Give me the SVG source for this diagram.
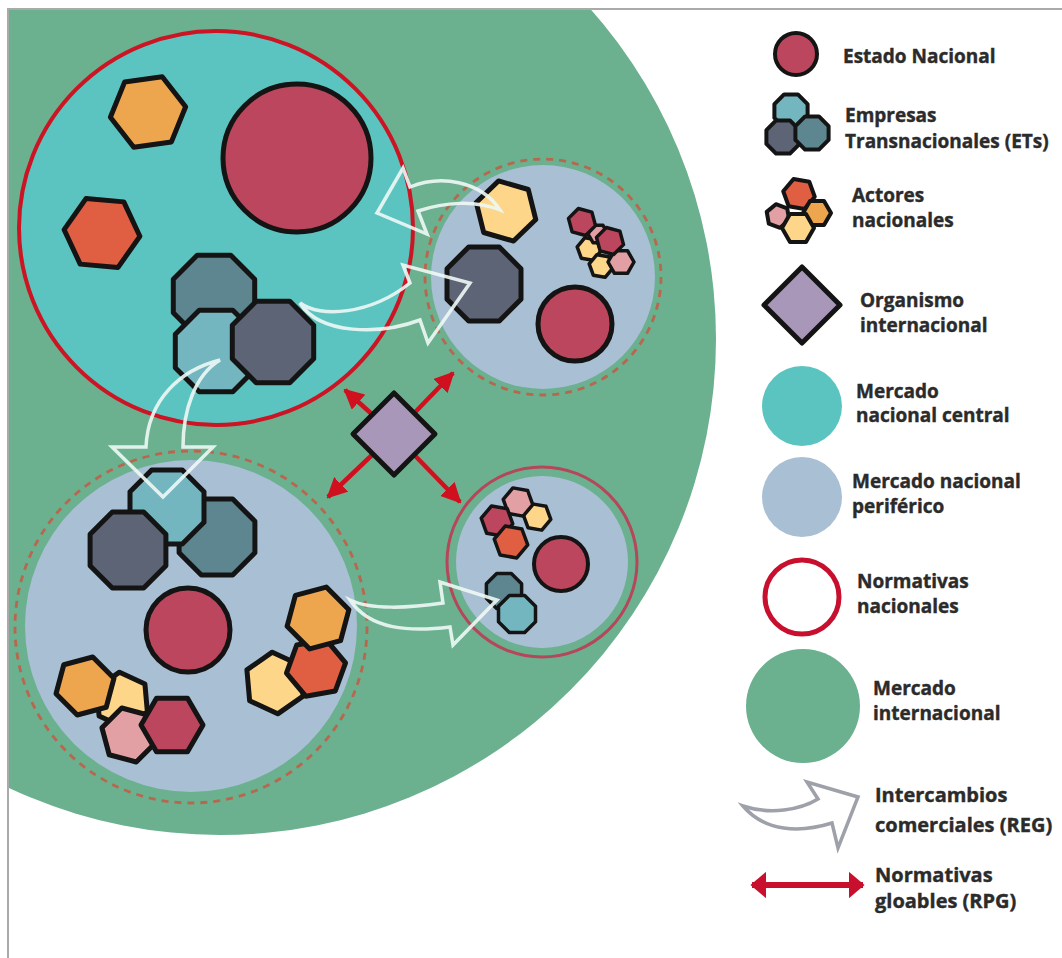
<svg xmlns="http://www.w3.org/2000/svg" width="1062" height="958" viewBox="0 0 1062 958">
<style>
.s{stroke:#141414;stroke-width:5;stroke-linejoin:round}
.m{stroke:#141414;stroke-width:4;stroke-linejoin:round}
.t{stroke:#141414;stroke-width:3.5;stroke-linejoin:round}
.est{fill:#bb465d}.org{fill:#eea64e}.ror{fill:#e05f43}.yel{fill:#fdd68a}.pnk{fill:#e2a0a4}
.sla{fill:#5c6475}.dte{fill:#5e8690}.lte{fill:#73b6c0}.lav{fill:#a897b8}
.wa{fill:none;stroke:#eef8f5;stroke-opacity:0.9;stroke-width:3.5;stroke-linejoin:miter}
.ra{stroke:#d0101e;stroke-width:4.5;fill:none}
.dash{fill:none;stroke:#b8674f;stroke-width:2.8;stroke-dasharray:7 6}
text{font-family:"Open Sans","Liberation Sans",sans-serif;font-weight:700;font-size:19px;fill:#2b2b2b;stroke:#2b2b2b;stroke-width:0.4}
</style>
<defs>
<clipPath id="frame"><rect x="9" y="10" width="1053" height="948"/></clipPath>
<marker id="rh" viewBox="0 0 10 10" refX="9" refY="5" markerWidth="4.5" markerHeight="4.5" orient="auto-start-reverse" markerUnits="strokeWidth"><path d="M0,0 L10,5 L0,10 Z" fill="#d0101e"/></marker>
<marker id="rh2" viewBox="0 0 10 10" refX="9" refY="5" markerWidth="2.6" markerHeight="4.4" orient="auto-start-reverse" markerUnits="strokeWidth" preserveAspectRatio="none"><path d="M0,0 L10,5 L0,10 Z" fill="#c8102e"/></marker>
</defs>
<rect width="1062" height="958" fill="#ffffff"/>
<line x1="7" y1="9" x2="1062" y2="9" stroke="#aaaaaa" stroke-width="2"/>
<line x1="8" y1="9" x2="8" y2="958" stroke="#aaaaaa" stroke-width="2"/>

<g id="mercado-internacional" clip-path="url(#frame)">
<circle cx="220" cy="339" r="496" fill="#6bb08f"/>
</g>

<g id="mercado-central">
<circle cx="216" cy="228" r="195" fill="#5cc4c0"/>
<circle cx="216" cy="228" r="197" fill="none" stroke="#cc1424" stroke-width="4"/>
<circle class="s est" cx="297" cy="158" r="74"/>
<polygon class="s org" transform="rotate(-8 148 112)" points="186,112 167,144.9 129,144.9 110,112 129,79.1 167,79.1"/>
<polygon class="s ror" transform="rotate(5 102 233)" points="140,233 121,265.9 83,265.9 64,233 83,200.1 121,200.1"/>
<polygon class="s dte" points="254.7,279.2 230.8,255.3 197.2,255.3 173.3,279.2 173.3,312.8 197.2,336.7 230.8,336.7 254.7,312.8"/>
<polygon class="s lte" points="256.7,334.2 232.8,310.3 199.2,310.3 175.3,334.2 175.3,367.8 199.2,391.7 232.8,391.7 256.7,367.8"/>
<polygon class="s sla" points="313.7,325.2 289.8,301.3 256.2,301.3 232.3,325.2 232.3,358.8 256.2,382.7 289.8,382.7 313.7,358.8"/>
</g>

<g id="mercado-periferico-1">
<circle cx="543" cy="277" r="112" fill="#a8bfd4"/>
<circle class="dash" cx="543" cy="277" r="118"/>
<polygon class="s yel" transform="rotate(16 506 211)" points="537,211 521.5,237.8 490.5,237.8 475,211 490.5,184.2 521.5,184.2"/>
<polygon class="s sla" points="521,268.7 499.3,247 468.7,247 447,268.7 447,299.3 468.7,321 499.3,321 521,299.3"/>
<circle class="s est" cx="575" cy="324" r="37"/>
<polygon class="t yel" transform="rotate(10 589 249)" points="601,249 595,259.4 583,259.4 577,249 583,238.6 595,238.6"/>
<polygon class="t yel" transform="rotate(10 601 266)" points="613,266 607,276.4 595,276.4 589,266 595,255.6 607,255.6"/>
<polygon class="t pnk" points="608,234 603,242.7 593,242.7 588,234 593,225.3 603,225.3"/>
<polygon class="t pnk" points="634,262 627.5,273.3 614.5,273.3 608,262 614.5,250.7 627.5,250.7"/>
<polygon class="t est" transform="rotate(15 582 222)" points="596,222 589,234.1 575,234.1 568,222 575,209.9 589,209.9"/>
<polygon class="t est" transform="rotate(15 610 241)" points="624,241 617,253.1 603,253.1 596,241 603,228.9 617,228.9"/>
</g>

<g id="mercado-periferico-2">
<circle cx="191" cy="626" r="166" fill="#a8bfd4"/>
<circle class="dash" cx="191" cy="627" r="176"/>
<polygon class="s dte" points="254.9,521.3 232.7,499.1 201.3,499.1 179.1,521.3 179.1,552.7 201.3,574.9 232.7,574.9 254.9,552.7"/>
<polygon class="s lte" points="204,491.7 182.3,470 151.7,470 130,491.7 130,522.3 151.7,544 182.3,544 204,522.3"/>
<polygon class="s sla" points="165.9,534.3 143.7,512.1 112.3,512.1 90.1,534.3 90.1,565.7 112.3,587.9 143.7,587.9 165.9,565.7"/>
<circle class="s est" cx="188" cy="630" r="42"/>
<polygon class="s yel" transform="rotate(25 275 683)" points="306,683 290.5,709.8 259.5,709.8 244,683 259.5,656.2 290.5,656.2"/>
<polygon class="s ror" transform="rotate(-10 316 668)" points="346,668 331,694 301,694 286,668 301,642 331,642"/>
<polygon class="s org" transform="rotate(-15 318 618)" points="350,618 334,645.7 302,645.7 286,618 302,590.3 334,590.3"/>
<polygon class="s yel" transform="rotate(25 122 700)" points="150,700 136,724.2 108,724.2 94,700 108,675.8 136,675.8"/>
<polygon class="s org" transform="rotate(-15 85 686)" points="115,686 100,712 70,712 55,686 70,660 100,660"/>
<polygon class="s pnk" transform="rotate(15 129 735)" points="157,735 143,759.2 115,759.2 101,735 115,710.8 143,710.8"/>
<polygon class="s est" points="203,725 187.5,751.8 156.5,751.8 141,725 156.5,698.2 187.5,698.2"/>
</g>

<g id="mercado-periferico-3">
<circle cx="542" cy="562" r="86" fill="#a8bfd4"/>
<circle cx="542" cy="562" r="95" fill="none" stroke="#b5475a" stroke-width="3"/>
<circle class="m est" cx="561" cy="564" r="27"/>
<polygon class="t yel" transform="rotate(10 537 517)" points="551,517 544,529.1 530,529.1 523,517 530,504.9 544,504.9"/>
<polygon class="t pnk" transform="rotate(10 518 502)" points="533,502 525.5,515 510.5,515 503,502 510.5,489 525.5,489"/>
<polygon class="t est" transform="rotate(10 497 521)" points="513,521 505,534.9 489,534.9 481,521 489,507.1 505,507.1"/>
<polygon class="t ror" transform="rotate(10 511 542)" points="528,542 519.5,556.7 502.5,556.7 494,542 502.5,527.3 519.5,527.3"/>
<polygon class="t dte" points="521.6,583.7 511.3,573.4 496.7,573.4 486.4,583.7 486.4,598.3 496.7,608.6 511.3,608.6 521.6,598.3"/>
<polygon class="t lte" points="535.5,606.3 524.7,595.5 509.3,595.5 498.5,606.3 498.5,621.7 509.3,632.5 524.7,632.5 535.5,621.7"/>
</g>

<g id="connectors">
<path class="wa" d="M 500,210 C 480,180 440,175 410,187 L 403,168 L 377,213 L 427,234 L 418,211 C 445,202 475,200 500,210 Z"/>
<path class="wa" d="M 300,303 C 320,318 370,315 410,283 L 403,265 L 470,283 L 428,343 L 420,320 C 380,335 320,335 300,303 Z"/>
<path class="wa" d="M 220,360 C 180,370 148,400 146,447 L 112,447 L 163,497 L 213,447 L 183,447 C 183,410 195,375 220,360 Z"/>
<path class="wa" d="M 350,600 C 370,610 410,608 443,603 L 440,582 L 497,600 L 453,645 L 450,627 C 410,632 370,630 350,600 Z"/>
<line class="ra" x1="394" y1="434" x2="345" y2="390" marker-end="url(#rh)"/>
<line class="ra" x1="394" y1="434" x2="453" y2="373" marker-end="url(#rh)"/>
<line class="ra" x1="394" y1="434" x2="328" y2="497" marker-end="url(#rh)"/>
<line class="ra" x1="394" y1="434" x2="460" y2="502" marker-end="url(#rh)"/>
</g>

<g id="organismo-internacional">
<polygon class="s lav" points="394,393 435,434 394,475 353,434" stroke-linejoin="miter"/>
</g>

<g id="legend-estado">
<circle class="m est" cx="796" cy="54" r="21"/>
<text x="843" y="63">Estado Nacional</text>
</g>
<g id="legend-ets">
<polygon class="m lte" points="807.6,104.1 797.9,94.4 784.1,94.4 774.4,104.1 774.4,117.9 784.1,127.6 797.9,127.6 807.6,117.9"/>
<polygon class="m sla" points="799.6,130.1 789.9,120.4 776.1,120.4 766.4,130.1 766.4,143.9 776.1,153.6 789.9,153.6 799.6,143.9"/>
<polygon class="m dte" points="828.6,126.1 818.9,116.4 805.1,116.4 795.4,126.1 795.4,139.9 805.1,149.6 818.9,149.6 828.6,139.9"/>
<text x="845" y="122">Empresas</text>
<text x="845" y="148">Transnacionales (ETs)</text>
</g>
<g id="legend-actores">
<polygon class="m ror" transform="rotate(10 799 194)" points="815,194 807,207.9 791,207.9 783,194 791,180.1 807,180.1"/>
<polygon class="m pnk" transform="rotate(20 778 216)" points="790,216 784,226.4 772,226.4 766,216 772,205.6 784,205.6"/>
<polygon class="m org" points="831,213 824,225.1 810,225.1 803,213 810,200.9 824,200.9"/>
<polygon class="m yel" points="814,228 806,241.9 790,241.9 782,228 790,214.1 806,214.1"/>
<text x="852" y="202">Actores</text>
<text x="852" y="227">nacionales</text>
</g>
<g id="legend-organismo">
<polygon class="s lav" points="802,267 840,305 802,343 764,305" stroke-linejoin="miter"/>
<text x="860" y="307">Organismo</text>
<text x="860" y="332">internacional</text>
</g>
<g id="legend-central">
<circle cx="802" cy="406" r="40" fill="#5cc4c0"/>
<text x="856" y="398">Mercado</text>
<text x="856" y="422">nacional central</text>
</g>
<g id="legend-periferico">
<circle cx="802" cy="497" r="40" fill="#a8bfd4"/>
<text x="852" y="488">Mercado nacional</text>
<text x="852" y="513">periférico</text>
</g>
<g id="legend-normativas-nacionales">
<circle cx="802" cy="597" r="37" fill="#ffffff" stroke="#c8102e" stroke-width="5"/>
<text x="857" y="588">Normativas</text>
<text x="857" y="613">nacionales</text>
</g>
<g id="legend-internacional">
<circle cx="803" cy="706" r="57" fill="#6bb08f"/>
<text x="873" y="695">Mercado</text>
<text x="873" y="720">internacional</text>
</g>
<g id="legend-intercambios">
<path d="M 743,806 C 770,815 800,810 818,799 L 807,782 L 858,797 L 838,848 L 832,823 C 800,833 765,832 743,806 Z" fill="#ffffff" stroke="#9fa1aa" stroke-width="3.5"/>
<text x="875" y="802" style="font-size:20px">Intercambios</text>
<text x="875" y="832" style="font-size:20px">comerciales (REG)</text>
</g>
<g id="legend-normativas-globales">
<line x1="752" y1="885" x2="863" y2="885" stroke="#c8102e" stroke-width="6" marker-start="url(#rh2)" marker-end="url(#rh2)"/>
<text x="875" y="882" style="font-size:20px">Normativas</text>
<text x="875" y="908" style="font-size:20px">gloables (RPG)</text>
</g>
</svg>
